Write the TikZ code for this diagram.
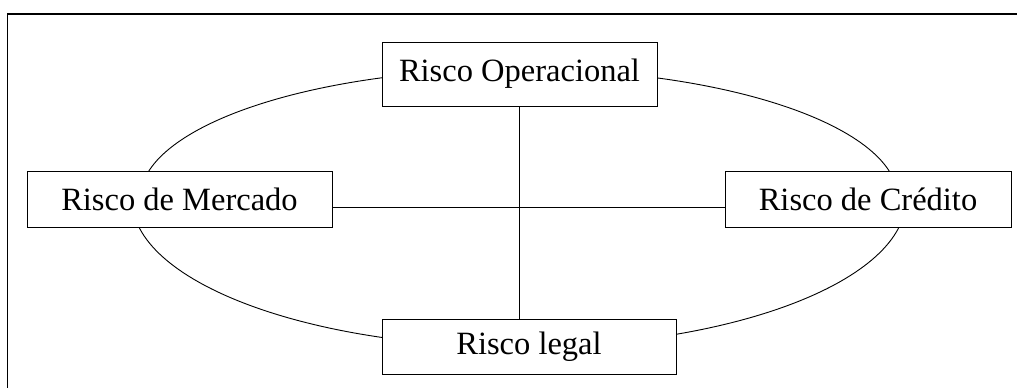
\documentclass[tikz,border=0pt]{standalone}
\usepackage{fontspec}
\setmainfont{Liberation Serif}
\begin{document}
\begin{tikzpicture}[x=1pt,y=-1pt,
  riskbox/.style={draw, fill=white, line width=0.9pt, inner sep=0pt,
    font=\fontsize{32.5}{38}\selectfont},
  link/.style={line width=0.9pt}]
\useasboundingbox (0,0) rectangle (1017,388);
% open frame: top and left edges
\draw[line width=1.3pt] (1017,14) -- (7.5,14) -- (7.5,388);
% oval linking the four risks: flatter upper half, deeper lower half
\draw[link] (140,199) arc[start angle=180, end angle=360, x radius=379, y radius=130];
\draw[link] (132,199) arc[start angle=180, end angle=0, x radius=387, y radius=148];
% boxes
\node[riskbox, minimum width=275pt, minimum height=64pt] (op) at (519.5,74) {Risco Operacional};
\node[riskbox, minimum width=305pt, minimum height=56pt] (merc) at (179.5,199) {Risco de Mercado};
\node[riskbox, minimum width=286pt, minimum height=56pt] (cred) at (868,199) {Risco de Crédito};
\node[riskbox, minimum width=294pt, minimum height=55pt] (leg) at (529,346.5) {Risco legal};
% cross connectors
\draw[link] ([yshift=-8pt]merc.east) -- ([yshift=-8pt]cred.west);
\draw[link] (op.south) -- (op.south |- leg.north);
\end{tikzpicture}
\end{document}
